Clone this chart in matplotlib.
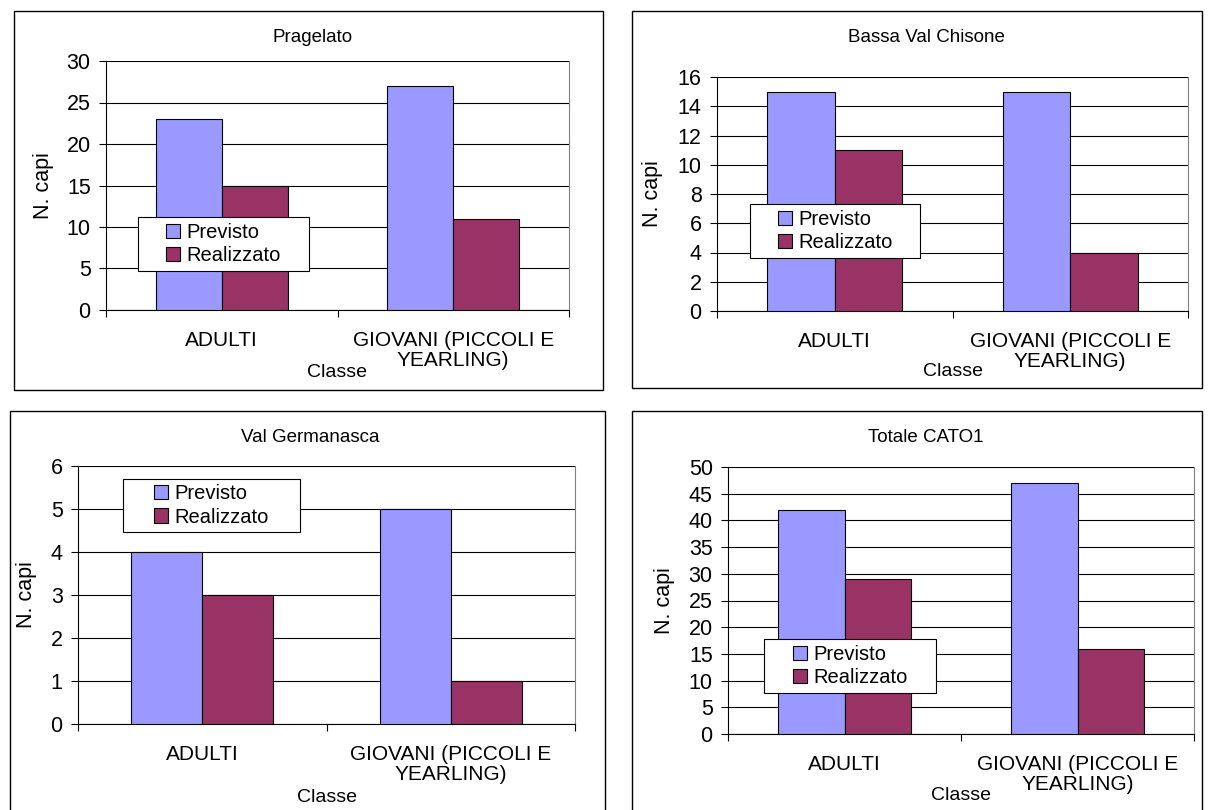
import numpy as np
import matplotlib
matplotlib.use("Agg")
import matplotlib.pyplot as plt
from matplotlib.patches import Rectangle

plt.rcParams['font.family'] = ['Liberation Sans', 'DejaVu Sans']

# data
categorie = ["ADULTI", "GIOVANI (PICCOLI E\nYEARLING)"]
serie = ["Previsto", "Realizzato"]
titoli = ["Pragelato", "Bassa Val Chisone", "Val Germanasca", "Totale CATO1"]

previsto_pragelato = [23, 27]
realizzato_pragelato = [15, 11]
previsto_bassa = [15, 15]
realizzato_bassa = [11, 4]
previsto_germanasca = [4, 5]
realizzato_germanasca = [3, 1]
previsto_totale = [42, 47]
realizzato_totale = [29, 16]

y_max = [30, 16, 6, 50]
y_step = [5, 2, 1, 5]

W, H = 1209, 810
fig = plt.figure(figsize=(W / 100, H / 100), dpi=100)


def fx(px):
    return px / W


def fy(py):
    return 1 - py / H


# layout in pixels: axes (l, t, r, b), frame box, legend box, title pos
layout = [
    dict(axes=(106, 61, 569, 310), box=(14, 11, 603, 390), leg=(138, 217, 309, 271),
         title=(313, 37), ylab=-0.112, xlab=-0.215),
    dict(axes=(717, 77, 1188, 311), box=(632, 11, 1202, 388), leg=(750, 204, 920, 258),
         title=(926, 37), ylab=-0.115, xlab=-0.224),
    dict(axes=(78, 466, 575, 724), box=(10, 411, 605, 830), leg=(123, 479, 300, 532),
         title=(310, 437), ylab=-0.083, xlab=-0.250),
    dict(axes=(728, 467, 1194, 734), box=(632, 411, 1202, 830), leg=(764, 639, 936, 693),
         title=(926, 437), ylab=-0.114, xlab=-0.200),
]

dati = [
    (previsto_pragelato, realizzato_pragelato),
    (previsto_bassa, realizzato_bassa),
    (previsto_germanasca, realizzato_germanasca),
    (previsto_totale, realizzato_totale),
]

colori = ['#9999FF', '#993366']
w = 2 / 7
x = np.arange(len(categorie)) + 0.5

for i, lay in enumerate(layout):
    l, t, r, b = lay['axes']
    ax = fig.add_axes([fx(l), fy(b), (r - l) / W, (b - t) / H])
    prev, real = dati[i]
    ax.bar(x - w / 2, prev, w, color=colori[0], edgecolor='black', lw=0.8,
           label=serie[0], zorder=3)
    ax.bar(x + w / 2, real, w, color=colori[1], edgecolor='black', lw=0.8,
           label=serie[1], zorder=3)

    ax.set_xlim(0, 2)
    ax.set_ylim(0, y_max[i])
    ax.set_yticks(np.arange(0, y_max[i] + y_step[i], y_step[i]))
    ax.yaxis.grid(True, color='black', lw=0.8)
    ax.set_axisbelow(True)

    ax.set_xticks([0, 1, 2])
    ax.set_xticklabels([])
    ax.set_xticks(x, minor=True)
    ax.set_xticklabels(categorie, minor=True, linespacing=1.05)
    ax.tick_params(axis='x', which='minor', length=0, pad=15, labelsize=15)
    ax.tick_params(axis='x', which='major', length=5, width=0.8, direction='out')
    ax.tick_params(axis='y', length=5, width=0.8, pad=6, labelsize=15.5)

    ax.spines['top'].set_visible(False)
    ax.spines['right'].set_color('#808080')
    ax.spines['left'].set_linewidth(0.8)
    ax.spines['bottom'].set_linewidth(0.8)

    ax.set_ylabel("N. capi", fontsize=15.5)
    ax.yaxis.set_label_coords(lay['ylab'], 0.5)
    ax.set_xlabel("Classe", fontsize=14)
    ax.xaxis.set_label_coords(0.5, lay['xlab'])

    tx, ty = lay['title']
    fig.text(fx(tx), fy(ty), titoli[i], ha='center', va='center', fontsize=13.5)

    # legend box (Excel-style, wider than its content)
    ll, lt, lr, lb = lay['leg']
    ax.add_patch(Rectangle((fx(ll), fy(lb)), (lr - ll) / W, (lb - lt) / H,
                           transform=fig.transFigure, facecolor='white',
                           edgecolor='black', lw=0.8, zorder=4, clip_on=False))
    ax.legend(loc='center', bbox_to_anchor=(fx((ll + lr) / 2), fy((lt + lb) / 2)),
              bbox_transform=fig.transFigure, frameon=False, fontsize=14.5,
              handlelength=0.7, handleheight=0.7, handletextpad=0.3,
              labelspacing=0.2, borderpad=0.1)

    bl, bt, br, bb = lay['box']
    fig.add_artist(Rectangle((fx(bl), fy(bb)), (br - bl) / W, (bb - bt) / H,
                             transform=fig.transFigure, fill=False,
                             edgecolor='black', lw=1.0))

fig.savefig("out.png", dpi=100)
